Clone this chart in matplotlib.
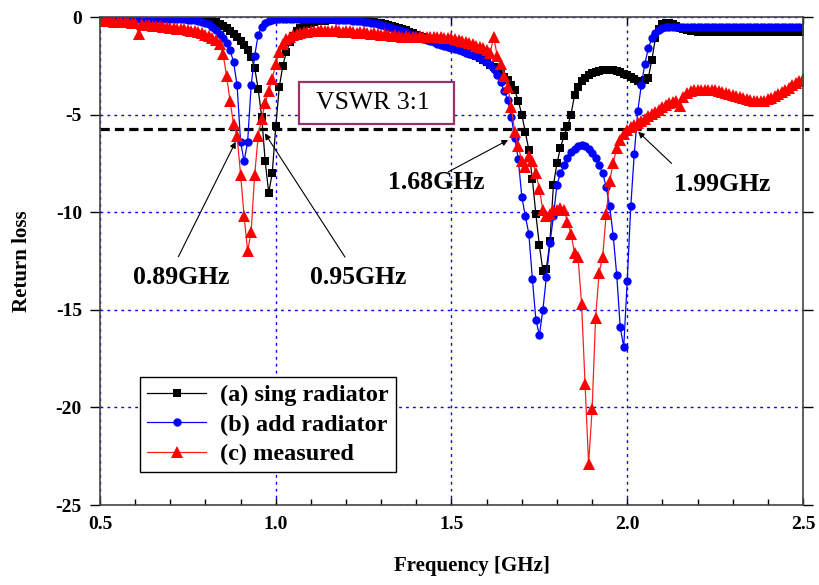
import numpy as np
import matplotlib
matplotlib.use("Agg")
import matplotlib.pyplot as plt
from matplotlib.patches import Rectangle
from matplotlib.ticker import MultipleLocator

plt.rcParams['font.family'] = ['Liberation Serif', 'DejaVu Serif']
plt.rcParams['axes.unicode_minus'] = False

# ---------------- data ----------------
freq_start, freq_stop, freq_step = 0.50, 2.50, 0.01
freq = np.round(np.arange(freq_start, freq_stop + freq_step / 2, freq_step), 3)

sing_radiator = [
    -0.05, -0.05, -0.05, -0.05, -0.05, -0.05, -0.05, -0.05, -0.05, -0.05,   # 0.50
    -0.05, -0.05, -0.05, -0.05, -0.05, -0.05, -0.05, -0.05, -0.05, -0.05,   # 0.60
    -0.05, -0.05, -0.05, -0.05, -0.06, -0.06, -0.07, -0.08, -0.09, -0.11,   # 0.70
    -0.13, -0.17, -0.22, -0.28, -0.36, -0.46, -0.58, -0.72, -0.88, -1.05,   # 0.80
    -1.25, -1.45, -1.70, -2.05, -2.60, -3.70, -5.10, -7.40, -9.00, -8.00,   # 0.90
    -5.60, -3.60, -2.50, -1.80, -1.30, -0.95, -0.70, -0.55, -0.42, -0.35,   # 1.00
    -0.30, -0.26, -0.22, -0.20, -0.18, -0.17, -0.16, -0.15, -0.15, -0.15,   # 1.10
    -0.15, -0.15, -0.16, -0.17, -0.18, -0.20, -0.22, -0.24, -0.27, -0.30,   # 1.20
    -0.33, -0.37, -0.41, -0.46, -0.51, -0.56, -0.62, -0.68, -0.75, -0.82,   # 1.30
    -0.90, -0.97, -1.04, -1.10, -1.16, -1.22, -1.28, -1.34, -1.40, -1.46,   # 1.40
    -1.52, -1.58, -1.64, -1.70, -1.77, -1.84, -1.92, -2.00, -2.10, -2.20,   # 1.50
    -2.32, -2.45, -2.58, -2.72, -2.88, -3.05, -3.25, -3.50, -3.75, -4.30,   # 1.60
    -5.00, -5.90, -6.80, -8.30, -10.1, -11.7, -13.0, -12.9, -11.5, -8.60,   # 1.70
    -7.50, -6.70, -6.10, -5.60, -5.00, -4.00, -3.60, -3.30, -3.10, -2.95,   # 1.80
    -2.85, -2.80, -2.75, -2.72, -2.72, -2.72, -2.74, -2.78, -2.83, -2.90,   # 1.90
    -2.98, -3.07, -3.17, -3.27, -3.35, -3.25, -3.10, -2.20, -1.10, -0.60,   # 2.00
    -0.35, -0.30, -0.30, -0.35, -0.45, -0.55, -0.63, -0.68, -0.72, -0.74,   # 2.10
    -0.75, -0.75, -0.75, -0.75, -0.75, -0.75, -0.75, -0.75, -0.75, -0.75,   # 2.20
    -0.75, -0.75, -0.75, -0.75, -0.75, -0.75, -0.75, -0.75, -0.75, -0.75,   # 2.30
    -0.75, -0.75, -0.75, -0.75, -0.75, -0.75, -0.75, -0.75, -0.75, -0.75,   # 2.40
    -0.75,                                                                  # 2.50
]

add_radiator = [
    -0.10, -0.10, -0.10, -0.10, -0.10, -0.10, -0.10, -0.10, -0.10, -0.10,   # 0.50
    -0.10, -0.10, -0.10, -0.10, -0.10, -0.10, -0.10, -0.10, -0.10, -0.10,   # 0.60
    -0.10, -0.10, -0.10, -0.11, -0.12, -0.13, -0.15, -0.17, -0.20, -0.24,   # 0.70
    -0.30, -0.38, -0.50, -0.65, -0.85, -1.10, -1.35, -1.70, -2.30, -3.50,   # 0.80
    -6.40, -7.40, -6.40, -3.50, -2.00, -0.90, -0.50, -0.30, -0.20, -0.15,   # 0.90
    -0.12, -0.10, -0.10, -0.10, -0.10, -0.10, -0.10, -0.10, -0.10, -0.10,   # 1.00
    -0.10, -0.10, -0.10, -0.10, -0.10, -0.11, -0.12, -0.13, -0.14, -0.15,   # 1.10
    -0.16, -0.17, -0.18, -0.20, -0.22, -0.24, -0.27, -0.30, -0.33, -0.37,   # 1.20
    -0.41, -0.45, -0.50, -0.55, -0.60, -0.66, -0.72, -0.78, -0.85, -0.92,   # 1.30
    -0.99, -1.06, -1.12, -1.18, -1.24, -1.30, -1.36, -1.42, -1.48, -1.54,   # 1.40
    -1.58, -1.64, -1.70, -1.76, -1.82, -1.88, -1.95, -2.02, -2.10, -2.20,   # 1.50
    -2.30, -2.45, -2.65, -2.95, -3.35, -3.80, -4.25, -5.10, -6.20, -7.30,   # 1.60
    -9.20, -10.2, -11.1, -13.4, -15.5, -16.3, -15.0, -13.3, -11.6, -10.2,   # 1.70
    -8.60, -8.00, -7.60, -7.20, -6.90, -6.75, -6.60, -6.55, -6.60, -6.75,   # 1.80
    -6.95, -7.20, -7.60, -8.00, -8.70, -9.70, -11.2, -13.2, -15.9, -16.9,   # 1.90
    -13.5, -9.70, -7.00, -4.80, -3.50, -2.40, -1.60, -1.10, -0.80, -0.65,   # 2.00
    -0.55, -0.50, -0.50, -0.50, -0.50, -0.50, -0.50, -0.50, -0.50, -0.50,   # 2.10
    -0.50, -0.50, -0.50, -0.50, -0.50, -0.50, -0.50, -0.50, -0.50, -0.50,   # 2.20
    -0.50, -0.50, -0.50, -0.50, -0.50, -0.50, -0.50, -0.50, -0.50, -0.50,   # 2.30
    -0.50, -0.50, -0.50, -0.50, -0.50, -0.50, -0.50, -0.50, -0.50, -0.50,   # 2.40
    -0.50,                                                                  # 2.50
]

measured = [
    -0.20, -0.20, -0.22, -0.22, -0.24, -0.25, -0.26, -0.27, -0.28, -0.30,   # 0.50
    -0.32, -0.85, -0.36, -0.40, -0.42, -0.44, -0.46, -0.48, -0.50, -0.52,   # 0.60
    -0.55, -0.57, -0.60, -0.62, -0.64, -0.67, -0.70, -0.74, -0.78, -0.83,   # 0.70
    -0.90, -0.98, -1.08, -1.20, -1.40, -1.90, -3.00, -4.30, -5.50, -6.10,   # 0.80
    -8.10, -10.2, -12.0, -11.0, -8.10, -6.10, -5.20, -4.40, -3.80, -3.20,   # 0.90
    -2.40, -1.80, -1.40, -1.15, -1.00, -0.90, -0.85, -0.80, -0.75, -0.75,   # 1.00
    -0.70, -0.70, -0.72, -0.68, -0.70, -0.72, -0.70, -0.68, -0.70, -0.75,   # 1.10
    -0.72, -0.70, -0.75, -0.80, -0.75, -0.78, -0.80, -0.85, -0.82, -0.85,   # 1.20
    -0.90, -0.88, -0.92, -0.95, -0.92, -0.95, -1.00, -0.98, -1.00, -1.00,   # 1.30
    -1.00, -0.98, -1.00, -1.00, -1.02, -1.00, -1.05, -1.05, -1.08, -1.10,   # 1.40
    -1.10, -1.15, -1.20, -1.25, -1.30, -1.35, -1.40, -1.50, -1.55, -1.60,   # 1.50
    -1.70, -1.85, -1.00, -2.00, -2.40, -3.00, -3.60, -4.60, -5.90, -6.60,   # 1.60
    -7.40, -7.70, -7.10, -7.40, -8.00, -8.80, -9.90, -10.2, -10.1, -9.90,   # 1.70
    -9.90, -9.80, -9.90, -10.5, -11.1, -12.1, -12.3, -14.7, -18.8, -22.9,   # 1.80
    -20.1, -15.4, -13.1, -12.3, -10.1, -8.40, -7.50, -6.70, -6.30, -6.00,   # 1.90
    -5.80, -5.65, -5.55, -5.45, -5.35, -5.20, -5.05, -4.95, -4.85, -4.75,   # 2.00
    -4.60, -4.50, -4.40, -4.35, -4.30, -4.55, -4.10, -3.90, -3.80, -3.75,   # 2.10
    -3.75, -3.72, -3.72, -3.72, -3.74, -3.76, -3.80, -3.85, -3.90, -3.95,   # 2.20
    -4.00, -4.05, -4.10, -4.15, -4.20, -4.25, -4.28, -4.30, -4.30, -4.28,   # 2.30
    -4.22, -4.15, -4.05, -3.95, -3.85, -3.75, -3.62, -3.50, -3.38, -3.28,   # 2.40
    -3.20,                                                                  # 2.50
]

series_labels = ["(a) sing radiator", "(b) add radiator", "(c) measured"]
vswr_level = -5.75
x_ticks = [0.5, 1.0, 1.5, 2.0, 2.5]
x_tick_labels = ["0.5", "1.0", "1.5", "2.0", "2.5"]
y_ticks = [0, -5, -10, -15, -20, -25]
y_tick_labels = ["0", "-5", "-10", "-15", "-20", "-25"]

# ---------------- figure ----------------
fig = plt.figure(figsize=(8.2, 5.85), dpi=100)
ax = fig.add_axes([100 / 820, 1 - 505 / 585, 703 / 820, 488 / 585])

ax.set_xlim(0.5, 2.5)
ax.set_ylim(-25, 0)
ax.set_axisbelow(True)

ax.grid(True, which='major', color='#0000ff', linestyle=(0, (2, 3)), linewidth=1.0)

ax.axhline(vswr_level, color='black', lw=2.3, dashes=(2.9, 1.6), zorder=1.5,
           xmin=-0.0, xmax=1.008, clip_on=False)

ax.plot(freq, sing_radiator, color='black', lw=0.9, marker='s', ms=5.2,
        mec='black', mew=0, label=series_labels[0], zorder=3)
ax.plot(freq, add_radiator, color='#0000ff', lw=0.9, marker='o', ms=6,
        mec='#0000ff', mew=0, label=series_labels[1], zorder=4)
ax.plot(freq, measured, color='#ff2020', lw=0.9, marker='^', ms=8,
        mec='#ff0000', mew=0, mfc='#ff0000', label=series_labels[2], zorder=5)

# VSWR box
ax.add_patch(Rectangle((1.066, -5.50), 0.441, 2.19, facecolor='white',
                       edgecolor='#993366', lw=1.6, zorder=6))
ax.text(1.275, -4.42, "VSWR 3:1", fontsize=18.5, ha='center', va='center', zorder=7)

# annotations
ann_font = dict(fontsize=18.5, fontweight='bold', ha='center', va='center', zorder=8)
arrow = dict(arrowstyle='-|>', color='black', lw=0.8, mutation_scale=9,
             shrinkA=0, shrinkB=0)
ax.text(0.732, -13.32, "0.89GHz", **ann_font)
ax.annotate('', xy=(0.886, -6.39), xytext=(0.723, -12.28), arrowprops=arrow, zorder=8)
ax.text(1.234, -13.32, "0.95GHz", **ann_font)
ax.annotate('', xy=(0.969, -5.96), xytext=(1.197, -12.3), arrowprops=arrow, zorder=8)
ax.text(1.456, -8.5, "1.68GHz", **ann_font)
ax.annotate('', xy=(1.661, -6.3), xytext=(1.491, -7.93), arrowprops=arrow, zorder=8)
ax.text(2.269, -8.56, "1.99GHz", **ann_font)
ax.annotate('', xy=(2.031, -5.88), xytext=(2.126, -7.5), arrowprops=arrow, zorder=8)

# axes styling
ax.set_xticks(x_ticks)
ax.set_xticklabels(x_tick_labels, fontsize=14, fontweight='bold')
ax.set_yticks(y_ticks)
ax.set_yticklabels(y_tick_labels, fontsize=14, fontweight='bold')
ax.xaxis.set_minor_locator(MultipleLocator(0.1))

ax.tick_params(axis='y', which='major', direction='out', length=7, width=1,
               pad=6, left=True, right=True)
ax.tick_params(axis='y', which='major', right=True, labelright=False)
ax.tick_params(axis='x', which='major', direction='in', length=5, width=1,
               pad=8, top=True)
ax.tick_params(axis='x', which='minor', direction='in', length=4, width=1, top=False)

for side in ['left', 'right', 'top', 'bottom']:
    ax.spines[side].set_color('#444444')
    ax.spines[side].set_linewidth(1.2)
    ax.spines[side].set_zorder(9)

ax.set_xlabel("Frequency [GHz]", fontsize=15, fontweight='bold')
ax.xaxis.set_label_coords(0.529, -0.105)
ax.set_ylabel("Return loss", fontsize=15, fontweight='bold')
ax.yaxis.set_label_coords(-0.097, 0.5)

leg = ax.legend(loc='upper left', bbox_to_anchor=(0.057, 0.262), frameon=True,
                fancybox=False, shadow=False, edgecolor='black', framealpha=1,
                prop=dict(size=17.5, weight='bold'), handlelength=2.4,
                labelspacing=0.3, borderpad=0.3, handletextpad=0.6,
                borderaxespad=0)
leg.get_frame().set_linewidth(1.0)
leg.set_zorder(10)

fig.savefig("out.png", dpi=100)
